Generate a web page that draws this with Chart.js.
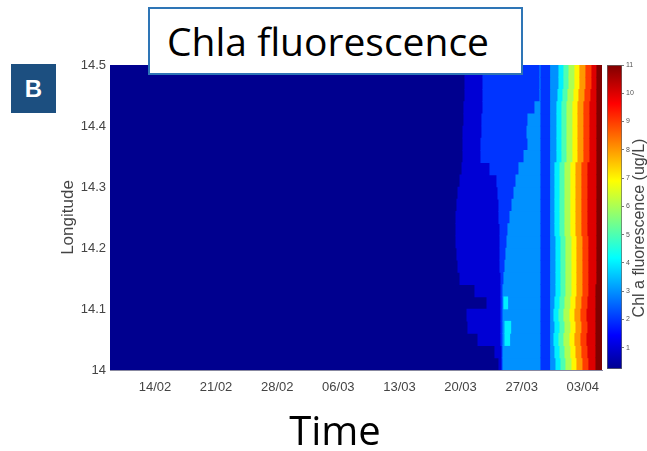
<!DOCTYPE html>
<html>
<head>
<meta charset="utf-8">
<script src="https://cdn.jsdelivr.net/npm/chart.js@4.4.0/dist/chart.umd.min.js"></script>
<style>
  html, body { margin: 0; padding: 0; background: #fff; }
  #wrap { position: relative; width: 647px; height: 451px; overflow: hidden; }
  #wrap canvas { position: absolute; left: 0; top: 0; }
  .titleBox {
    position: absolute; left: 148px; top: 7px; width: 375px; height: 68px;
    box-sizing: border-box; border: 2px solid #2e75b6; background: #fff;
    font-family: 'Open Sans', sans-serif; font-size: 39px; line-height: 64px;
    padding-left: 17px; color: #000;
  }
  .badge {
    position: absolute; left: 11px; top: 64px; width: 45px; height: 49px;
    background: #1c4f80; color: #fff; font-family: 'Liberation Sans', sans-serif;
    font-weight: bold; font-size: 24px; line-height: 49px; text-align: center;
  }
  .timeLabel {
    position: absolute; left: 235px; top: 408px; width: 200px; text-align: center;
    font-family: 'Open Sans', sans-serif; font-size: 40px; line-height: 44px; color: #000;
  }
  .cbTitle {
    position: absolute; left: 519px; top: 218px; width: 240px; height: 20px;
    line-height: 20px; text-align: center; transform: rotate(-90deg);
    font-family: 'Liberation Sans', sans-serif; font-size: 16px; color: #444;
  }
</style>
</head>
<body>
<div id="wrap">
  <canvas id="field" width="647" height="451"></canvas>
  <canvas id="colorbar" width="647" height="451"></canvas>
  <div class="titleBox">Chla fluorescence</div>
  <div class="badge">B</div>
  <div class="timeLabel">Time</div>
  <div class="cbTitle">Chl a fluorescence (ug/L)</div>
</div>
<script>
// time axis in days from 14/02
const dayTicks = [0, 7, 14, 21, 28, 35, 42, 49];
const dayLabels = ['14/02', '21/02', '28/02', '06/03', '13/03', '20/03', '27/03', '03/04'];
const firstDay = -5.15;
const lastDay = 51.2;

const lonTicks = [14, 14.1, 14.2, 14.3, 14.4, 14.5];
const lonLabels = ['14', '14.1', '14.2', '14.3', '14.4', '14.5'];

const colorLimits = [0.25, 11];
const cbTicks = [1, 2, 3, 4, 5, 6, 7, 8, 9, 10, 11];

// longitude rows (centre of each 0.02 band)
const lon = [14.01, 14.03, 14.05, 14.07, 14.09, 14.11, 14.13, 14.15, 14.17, 14.19, 14.21, 14.23, 14.25,
             14.27, 14.29, 14.31, 14.33, 14.35, 14.37, 14.39, 14.41, 14.43, 14.45, 14.47, 14.49];

// day at which Chl a first rises above each contour level, per row
const above1 = [39.38, 38.92, 36.98, 35.83, 35.72, 38.01, 36.63, 34.92, 34.69, 34.57, 34.46, 34.46, 34.46,
                34.57, 34.69, 34.92, 35.15, 35.26, 35.26, 35.26, 35.37, 35.37, 35.49, 35.49, 35.49];
const above2 = [39.72, 39.72, 39.61, 39.61, 39.61, 39.61, 39.61, 39.61, 39.50, 39.50, 39.50, 39.50, 39.38,
                39.38, 39.27, 39.15, 38.35, 37.32, 37.32, 37.43, 37.43, 37.55, 37.55, 37.55, 37.55];
const above3 = [39.84, 39.84, 39.84, 39.84, 39.84, 39.84, 39.84, 39.95, 40.07, 40.18, 40.30, 40.41, 40.64,
                40.87, 41.10, 41.33, 41.67, 42.25, 42.70, 42.59, 42.70, 43.50, 44.08, 44.08, 44.08];
// short drop back below 3 ug/L
const dipStart = [44.19, 44.19, 44.19, 44.19, 44.19, 44.19, 44.19, 44.19, 44.19, 44.19, 44.19, 44.19, 44.19,
                  44.19, 44.19, 44.19, 44.19, 44.19, 44.19, 44.19, 44.19, 44.19, 44.19, 44.19, 44.19];
const dipEnd = [45.22, 45.22, 45.22, 45.22, 45.22, 45.22, 45.22, 45.22, 45.22, 45.22, 45.22, 45.22, 45.22,
                45.22, 45.22, 45.22, 45.22, 45.22, 45.22, 45.22, 45.22, 45.22, 45.22, 45.22, 45.22];
const above4 = [45.91, 45.79, 45.68, 45.79, 45.68, 45.79, 45.91, 45.91, 45.91, 45.91, 45.91, 45.79, 45.79,
                45.79, 45.79, 45.79, 45.79, 46.02, 46.02, 46.02, 46.02, 46.02, 46.14, 46.25, 46.25];
const above5 = [46.48, 46.37, 46.25, 46.37, 46.25, 46.37, 46.48, 46.48, 46.48, 46.48, 46.48, 46.37, 46.37,
                46.37, 46.37, 46.37, 46.37, 46.59, 46.59, 46.59, 46.59, 46.59, 46.71, 46.82, 46.82];
const above6 = [47.05, 46.94, 46.82, 46.94, 46.82, 46.94, 47.05, 47.05, 47.05, 47.05, 47.05, 46.94, 46.94,
                46.94, 46.94, 46.94, 46.94, 47.17, 47.17, 47.17, 47.17, 47.17, 47.28, 47.40, 47.40];
const above7 = [47.74, 47.62, 47.51, 47.62, 47.51, 47.62, 47.74, 47.74, 47.74, 47.74, 47.74, 47.62, 47.62,
                47.62, 47.62, 47.62, 47.62, 47.85, 47.85, 47.85, 47.85, 47.85, 47.97, 48.08, 48.08];
const above8 = [48.31, 48.20, 48.08, 48.20, 48.08, 48.20, 48.31, 48.31, 48.31, 48.31, 48.31, 48.20, 48.20,
                48.20, 48.20, 48.20, 48.20, 48.43, 48.43, 48.43, 48.43, 48.43, 48.54, 48.65, 48.65];
const above9 = [49.00, 48.88, 48.77, 48.88, 48.77, 48.88, 49.00, 49.00, 49.00, 49.00, 49.00, 48.88, 48.88,
                48.88, 48.88, 48.88, 48.88, 49.11, 49.11, 49.11, 49.11, 49.11, 49.23, 49.34, 49.34];
const above10 = [49.68, 49.57, 49.46, 49.57, 49.46, 49.57, 49.68, 49.68, 49.68, 49.68, 49.68, 49.57, 49.57,
                 49.57, 49.57, 49.57, 49.57, 49.80, 49.80, 49.80, 49.80, 49.80, 49.91, 50.03, 50.03];
const above11 = [50.49, 50.49, 50.49, 50.49, 50.49, 50.49, 50.49, 50.60, 50.60, 50.60, 50.60, 50.60, 50.60,
                 50.60, 50.60, 50.60, 50.60, 50.60, 50.60, 50.60, 50.60, 50.60, 50.60, 50.60, 50.60];

// small patches above 4 ug/L near 27/03
const patchLon = [14.05, 14.07, 14.11];
const patchStart = [40.07, 40.07, 39.95];
const patchEnd = [40.64, 40.76, 40.41];

// MATLAB-like jet colormap
const jetStops = [
  [0, [0, 0, 143]], [0.111, [0, 0, 255]], [0.365, [0, 255, 255]],
  [0.619, [255, 255, 0]], [0.873, [255, 0, 0]], [1, [128, 0, 0]]
];
function jet(t) {
  t = Math.max(0, Math.min(1, t));
  for (let i = 1; i < jetStops.length; i++) {
    const [t1, c1] = jetStops[i];
    const [t0, c0] = jetStops[i - 1];
    if (t <= t1) {
      const f = (t - t0) / (t1 - t0);
      const c = c0.map((v, j) => Math.round(v + (c1[j] - v) * f));
      return `rgb(${c[0]}, ${c[1]}, ${c[2]})`;
    }
  }
  return 'rgb(128, 0, 0)';
}
function levelColor(k) {
  if (k === 0) return jet(0);
  return jet((k - colorLimits[0]) / (colorLimits[1] - colorLimits[0]));
}

const crossings = [null, above1, above2, above3, above4, above5, above6, above7, above8, above9, above10, above11];

const datasets = crossings.map((from, k) => ({
  label: 'level ' + k,
  data: lon.map((y, i) => ({ y: y, x: [from ? from[i] : firstDay, lastDay] })),
  backgroundColor: levelColor(k),
  order: 100 - k,
}));
datasets.push({
  label: 'dip',
  data: lon.map((y, i) => ({ y: y, x: [dipStart[i], dipEnd[i]] })),
  backgroundColor: levelColor(2),
  order: 0,
});
datasets.push({
  label: 'patches',
  data: patchLon.map((y, i) => ({ y: y, x: [patchStart[i], patchEnd[i]] })),
  backgroundColor: levelColor(4),
  order: 0,
});

const tickFont = { family: "'Liberation Sans', Arial, sans-serif", size: 13 };

new Chart(document.getElementById('field'), {
  type: 'bar',
  data: { datasets: datasets },
  options: {
    responsive: false,
    animation: false,
    events: [],
    indexAxis: 'y',
    datasets: {
      bar: { grouped: false, barPercentage: 1, categoryPercentage: 1, borderWidth: 0 },
    },
    layout: { padding: { left: 54, top: 65, right: 45, bottom: 51 } },
    plugins: { legend: { display: false }, tooltip: { enabled: false } },
    scales: {
      x: {
        type: 'linear',
        min: firstDay,
        max: lastDay,
        afterBuildTicks: ax => { ax.ticks = dayTicks.map(v => ({ value: v })); },
        afterFit: ax => { ax.height = 30; },
        ticks: {
          callback: v => dayLabels[dayTicks.indexOf(v)],
          color: '#444',
          font: tickFont,
          padding: 10,
          maxRotation: 0,
          autoSkip: false,
        },
        grid: { display: false, drawTicks: false },
        border: { display: true, color: '#8888a0' },
      },
      y: {
        type: 'linear',
        min: 14,
        max: 14.5,
        offset: false,
        afterBuildTicks: ax => { ax.ticks = lonTicks.map(v => ({ value: v })); },
        afterFit: ax => { ax.width = 56; },
        ticks: {
          callback: v => lonLabels[lonTicks.indexOf(v)],
          color: '#444',
          font: tickFont,
          padding: 4,
          autoSkip: false,
        },
        grid: { display: false, drawTicks: false },
        border: { display: true, color: '#8888a0' },
        title: {
          display: true,
          text: 'Longitude',
          color: '#444',
          font: { family: "'Liberation Sans', Arial, sans-serif", size: 17 },
          padding: { top: 4, bottom: 4 },
        },
      },
    },
  },
});

new Chart(document.getElementById('colorbar'), {
  type: 'bar',
  data: {
    labels: [''],
    datasets: [{
      data: [colorLimits],
      backgroundColor: ctx => {
        const chart = ctx.chart;
        if (!chart.chartArea) return 'rgba(0,0,0,0)';
        const ys = chart.scales.y;
        const g = chart.ctx.createLinearGradient(0, ys.getPixelForValue(colorLimits[0]), 0, ys.getPixelForValue(colorLimits[1]));
        jetStops.forEach(([t, c]) => g.addColorStop(t, `rgb(${c[0]}, ${c[1]}, ${c[2]})`));
        return g;
      },
      borderColor: '#666',
      borderWidth: 1,
      borderSkipped: false,
      barPercentage: 1,
      categoryPercentage: 1,
    }],
  },
  options: {
    responsive: false,
    animation: false,
    events: [],
    layout: { padding: { left: 607, top: 65, right: 0, bottom: 82 } },
    plugins: { legend: { display: false }, tooltip: { enabled: false } },
    scales: {
      x: { display: false },
      y: {
        position: 'right',
        min: colorLimits[0],
        max: colorLimits[1],
        afterBuildTicks: ax => { ax.ticks = cbTicks.map(v => ({ value: v })); },
        afterFit: ax => { ax.width = 25; },
        ticks: { color: '#555', font: { family: "'Liberation Sans', Arial, sans-serif", size: 7 }, padding: 2 },
        grid: { drawOnChartArea: false, tickLength: 2, color: '#777' },
        border: { display: false },
      },
    },
  },
});
</script>
</body>
</html>
